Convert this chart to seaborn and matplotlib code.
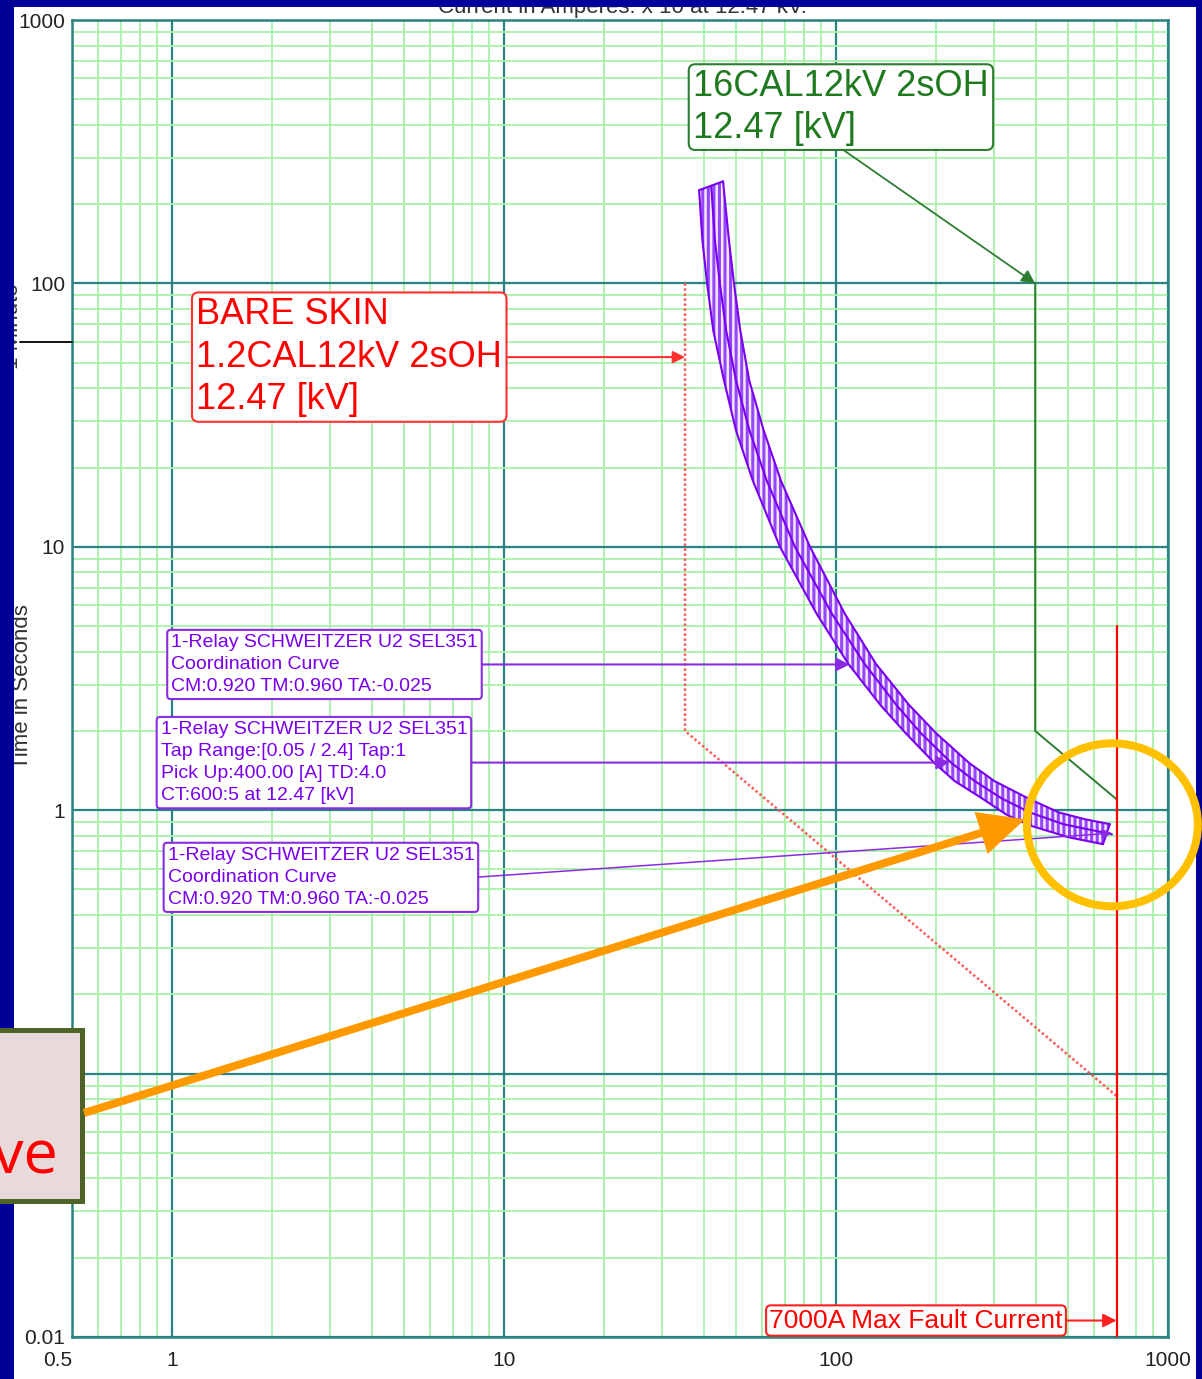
import matplotlib
matplotlib.use("Agg")
import matplotlib.pyplot as plt
import seaborn as sns
import pandas as pd
from matplotlib.patches import Rectangle, Ellipse, FancyArrow
from matplotlib.transforms import IdentityTransform, blended_transform_factory
from matplotlib.ticker import FixedLocator, FixedFormatter, LogLocator, NullFormatter

W, H = 1202, 1379

# ---- curves: current in amperes (x10 at 12.47 kV) and time in seconds ----
relay_upper_current = [45.7, 47.6, 49.3, 51.5, 54.8, 60.6, 68.3, 83.5, 106.4, 132.0,
                       166.0, 200.0, 252.0, 300.0, 384.0, 470.0, 560.0, 668.0]
relay_upper_time = [244.0, 145.6, 100.0, 66.2, 42.8, 27.6, 17.8, 10.0, 5.56, 3.59,
                    2.51, 1.963, 1.51, 1.29, 1.10, 0.98, 0.925, 0.885]
relay_lower_current = [38.7, 39.6, 40.9, 42.7, 46.0, 50.0, 56.2, 67.8, 87.5, 109.0,
                       136.0, 162.0, 198.0, 228.0, 275.0, 327.0, 384.0, 500.0, 637.0]
relay_lower_time = [226.0, 145.6, 100.0, 66.2, 42.8, 27.6, 17.8, 10.0, 5.56, 3.59,
                    2.51, 1.963, 1.509, 1.289, 1.11, 0.96, 0.875, 0.79, 0.743]
relay_mid_current = [42.1, 43.2, 44.7, 46.7, 50.0, 54.9, 61.9, 75.2, 97.3, 122.0,
                     152.0, 180.0, 223.0, 262.0, 315.0, 384.0, 484.0, 678.0]
relay_mid_time = [234.0, 145.6, 100.0, 66.2, 42.8, 27.6, 17.8, 10.0, 5.56, 3.59,
                  2.51, 1.963, 1.509, 1.289, 1.11, 0.98, 0.885, 0.81]

bare_skin_current = [35.1, 35.1, 702.0]
bare_skin_time = [100.0, 2.0, 0.082]

fuse_current = [398.0, 398.0, 700.0]
fuse_time = [100.0, 2.0, 1.1]

fault_current = [700.0, 700.0]
fault_time = [5.0, 0.01]

one_minute = 60.0

x_ticks = [0.5, 1, 10, 100, 1000]
x_tick_labels = ["0.5", "1", "10", "100", "1000"]
y_ticks = [0.01, 0.1, 1, 10, 100, 1000]
y_tick_labels = ["0.01", "0.1", "1", "10", "100", "1000"]

bare_skin_note = "BARE SKIN\n1.2CAL12kV 2sOH\n12.47 [kV]"
fuse_note = "16CAL12kV 2sOH\n12.47 [kV]"
relay_note = "1-Relay SCHWEITZER U2 SEL351\nCoordination Curve\nCM:0.920 TM:0.960 TA:-0.025"
relay_setting_note = ("1-Relay SCHWEITZER U2 SEL351\nTap Range:[0.05 / 2.4] Tap:1\n"
                      "Pick Up:400.00 [A] TD:4.0\nCT:600:5 at 12.47 [kV]")
fault_note = "7000A Max Fault Current"
title = "Current in Amperes: x 10 at 12.47 kV."

# ---- style ----
sns.set_theme(style="white")
plt.rcParams["font.family"] = ["Liberation Sans", "DejaVu Sans"]
plt.rcParams["hatch.linewidth"] = 2.2

TEAL = "#2a8282"
MINOR = "#a8f2a8"
PURPLE = "#8a2be2"
PURPLE_DARK = "#7a00f0"
RED = "#ff0000"
GREEN = "#2e7d32"

fig = plt.figure(figsize=(W / 100, H / 100), dpi=100)
fig.patch.set_facecolor("white")
ax = fig.add_axes([72 / W, 42 / H, 1096 / W, 1317 / H])
ax.set_xscale("log")
ax.set_yscale("log")

# ---- relay coordination band ----
band_x = relay_upper_current + relay_lower_current[::-1]
band_y = relay_upper_time + relay_lower_time[::-1]
ax.fill(band_x, band_y, facecolor="#f3e8ff", edgecolor="#9447ff", hatch="|||", lw=0.01, zorder=3)

edges = pd.DataFrame({
    "current": relay_upper_current + relay_lower_current + relay_mid_current,
    "time": relay_upper_time + relay_lower_time + relay_mid_time,
    "edge": (["upper"] * len(relay_upper_current) + ["lower"] * len(relay_lower_current)
             + ["mid"] * len(relay_mid_current)),
})
for name in ["upper", "lower", "mid"]:
    sub = edges[edges["edge"] == name]
    sns.lineplot(data=sub, x="current", y="time", sort=False, estimator=None, ax=ax,
                 color=PURPLE_DARK, lw=1.5, zorder=4)
# closing ends of the band
for i in (0, -1):
    sns.lineplot(x=[relay_lower_current[i], relay_upper_current[i]],
                 y=[relay_lower_time[i], relay_upper_time[i]], sort=False, estimator=None,
                 ax=ax, color=PURPLE_DARK, lw=1.5, zorder=4)

# ---- bare skin damage curve ----
sns.lineplot(x=bare_skin_current, y=bare_skin_time, sort=False, estimator=None, ax=ax,
             color="#ff5a5a", lw=1.8, linestyle=(0, (1, 1)), zorder=3)

# ---- 16 cal fuse curve ----
sns.lineplot(x=fuse_current, y=fuse_time, sort=False, estimator=None, ax=ax,
             color=GREEN, lw=1.4, zorder=3)

# ---- max fault current ----
sns.lineplot(x=fault_current, y=fault_time, sort=False, estimator=None, ax=ax,
             color=RED, lw=1.6, zorder=3)

# ---- axes, ticks and grid ----
ax.set_xlim(0.5, 1000)
ax.set_ylim(0.01, 1000)
ax.set_xlabel("")
ax.set_ylabel("")
ax.xaxis.set_major_locator(FixedLocator(x_ticks))
ax.xaxis.set_major_formatter(FixedFormatter(x_tick_labels))
ax.yaxis.set_major_locator(FixedLocator(y_ticks))
ax.yaxis.set_major_formatter(FixedFormatter(y_tick_labels))
for axis in (ax.xaxis, ax.yaxis):
    axis.set_minor_locator(LogLocator(base=10, subs=range(2, 10), numticks=30))
    axis.set_minor_formatter(NullFormatter())

ax.set_axisbelow(True)
ax.grid(which="minor", color=MINOR, lw=1.3)
ax.grid(which="major", color=TEAL, lw=1.6)
for sp in ax.spines.values():
    sp.set_color(TEAL)
    sp.set_linewidth(1.8)
ax.tick_params(which="both", length=0, labelsize=15, colors="#222222")
ax.tick_params(axis="y", pad=5)
ax.tick_params(axis="x", pad=10)
ax.get_xticklabels()[0].set_ha("right")

# one-minute marker on the time axis
blend = blended_transform_factory(ax.transAxes, ax.transData)
ax.plot([-0.0474, 0], [one_minute, one_minute], transform=blend, color="black",
        lw=1.3, clip_on=False, zorder=5)


def note(text, xy, xytext, color, edge, size, pad, spacing, relpos=(1, 0.5), lw_arrow=1.5,
         ms=18, box_lw=1.5):
    ax.annotate(text, xy=xy, xytext=xytext, textcoords="data", ha="center", va="center",
                multialignment="left", color=color, fontsize=size, zorder=8,
                linespacing=spacing,
                bbox=dict(boxstyle=f"round,pad={pad},rounding_size=0.18", fc="white",
                          ec=edge, lw=box_lw),
                arrowprops=dict(arrowstyle="-|>", color=edge, lw=lw_arrow, shrinkA=0,
                                shrinkB=0, relpos=relpos, mutation_scale=ms))


note(bare_skin_note, (35.1, 52.5), (3.42, 52.5), RED, "#ff3030", 26, 0.12, 1.29)
note(fuse_note, (398.0, 100.0), (103.5, 467.0), "#1f7a1f", GREEN, 26, 0.12, 1.26,
     relpos=(0.487, 0.0), lw_arrow=1.3, ms=20)
note(relay_note, (110.0, 3.575), (2.88, 3.575), PURPLE_DARK, PURPLE, 14, 0.2, 1.4, ms=20)
note(relay_setting_note, (220.0, 1.516), (2.677, 1.516), PURPLE_DARK, PURPLE, 14, 0.2, 1.4,
     ms=20)
note(relay_note, (678.0, 0.818), (2.81, 0.556), PURPLE_DARK, PURPLE, 14, 0.2, 1.4,
     lw_arrow=1.1, ms=14)
note(fault_note, (700.0, 0.01155), (174.2, 0.01155), RED, "#ff2020", 19, 0.12, 1.2, ms=20)

# ---- axis titles ----
fig.text(622 / W, 1 - 12.5 / H, title, ha="center", va="baseline", fontsize=16,
         color="#333333", zorder=1)
fig.text(22.5 / W, 1 - 687 / H, "Time in Seconds", ha="center", va="center",
         rotation=90, fontsize=16, color="#333333", zorder=1)
fig.text(13 / W, 1 - 326 / H, "1 Minute", ha="center", va="center",
         rotation=90, fontsize=16, color="#333333", zorder=1)

# ---- slide frame ----
ident = IdentityTransform()
for x0, y0, w, h in [(0, 0, 14, H), (0, H - 7, W, 7), (W - 6, 0, 6, H)]:
    fig.add_artist(Rectangle((x0, y0), w, h, transform=ident, facecolor="#000099",
                             edgecolor="none", zorder=5))

# ---- callout highlighting the fault-current end of the relay curve ----
cx, cy = ax.transData.transform((680.0, 0.88))
fig.add_artist(Ellipse((cx, cy), 171, 163, transform=ident, fill=False,
                       edgecolor="#ffc000", lw=5.8, zorder=7))

box_left, box_right, box_top, box_bottom = -20, 81.5, H - 1029.5, H - 1200.5
fig.add_artist(Rectangle((box_left, box_bottom), box_right - box_left, box_top - box_bottom,
                         transform=ident, facecolor="#e8dada", edgecolor="#4f6228",
                         lw=3.6, zorder=6))
fig.text(58, H - 1173, "ve", transform=ident, ha="right", va="baseline", color="#ff0000",
         fontsize=44, family=["Open Sans", "DejaVu Sans"], zorder=7)

tx, ty = ax.transData.transform((371.0, 0.924))
sx, sy = 84.0, H - 1113.0
fig.add_artist(FancyArrow(sx, sy, tx - sx, ty - sy, width=8, head_width=44, head_length=46,
                          length_includes_head=True, transform=ident, color="#ff9900",
                          lw=0, zorder=7))

fig.savefig("out.png", dpi=100)
